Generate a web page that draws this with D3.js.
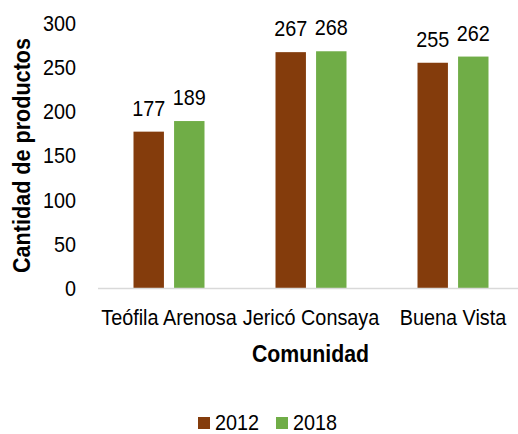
<!DOCTYPE html>
<html>
<head>
<meta charset="utf-8">
<script src="https://cdn.jsdelivr.net/npm/d3@7"></script>
<style>
  body { margin: 0; background: #fff; }
  text { font-family: "Liberation Sans Narrow", "Arial Narrow", "Liberation Sans", Arial, sans-serif; fill: #000; }
</style>
</head>
<body>
<div class="chart"></div>
<script>
const width = 518
const height = 434

const communities = ['Teófila Arenosa', 'Jericó Consaya', 'Buena Vista']
const years = ['2012', '2018']
const values2012 = [177, 267, 255]
const values2018 = [189, 268, 262]
const yTicks = [0, 50, 100, 150, 200, 250, 300]

const colors = { '2012': '#843C0C', '2018': '#70AD47' }

const rows = communities.map((c, i) => ({ name: c, vals: [values2012[i], values2018[i]] }))

const svg = d3.select('.chart')
    .append('svg')
        .attr('width', width)
        .attr('height', height)

// the original uses a condensed face; squeeze the regular one to match
function narrow(sel, k = 0.9){
    sel.each(function(){
        const w = this.getComputedTextLength()
        d3.select(this)
            .attr('textLength', w * k)
            .attr('lengthAdjust', 'spacingAndGlyphs')
    })
}

const x0 = d3.scaleBand()
    .domain(communities)
    .range([98, 524])
    .paddingInner(0.5)
    .paddingOuter(0.25)

const x1 = d3.scaleBand()
    .domain(years)
    .range([0, x0.bandwidth()])
    .paddingInner(0.25)

const y = d3.scaleLinear()
    .domain([0, 300])
    .range([288, 23])

// y tick labels
svg.append('g')
    .selectAll('text')
    .data(yTicks)
    .join('text')
        .attr('x', 76)
        .attr('y', d => y(d))
        .attr('dy', '0.36em')
        .attr('text-anchor', 'end')
        .attr('font-size', 22)
        .text(d => d)
        .call(narrow)

// bars
const groups = svg.append('g')
    .selectAll('g')
    .data(rows)
    .join('g')
        .attr('transform', d => `translate(${x0(d.name)},0)`)

groups.selectAll('rect')
    .data(d => d.vals.map((v, i) => ({ year: years[i], value: v })))
    .join('rect')
        .attr('x', d => x1(d.year))
        .attr('y', d => y(d.value))
        .attr('width', x1.bandwidth())
        .attr('height', d => y(0) - y(d.value))
        .attr('fill', d => colors[d.year])

groups.selectAll('text')
    .data(d => d.vals.map((v, i) => ({ year: years[i], value: v })))
    .join('text')
        .attr('x', d => x1(d.year) + x1.bandwidth() / 2)
        .attr('y', d => y(d.value) - 16)
        .attr('text-anchor', 'middle')
        .attr('font-size', 22)
        .text(d => d.value)
        .call(narrow)

// x axis line
svg.append('line')
    .attr('x1', 98)
    .attr('x2', 524)
    .attr('y1', y(0) + 0.5)
    .attr('y2', y(0) + 0.5)
    .attr('stroke', '#d9d9d9')
    .attr('stroke-width', 1.5)

// x labels
svg.append('g')
    .selectAll('text')
    .data(communities)
    .join('text')
        .attr('x', d => x0(d) + x0.bandwidth() / 2)
        .attr('y', 325)
        .attr('text-anchor', 'middle')
        .attr('font-size', 22)
        .text(d => d)
        .call(narrow)

// axis titles
svg.append('text')
    .attr('x', 310.5)
    .attr('y', 362)
    .attr('text-anchor', 'middle')
    .attr('font-size', 23)
    .attr('font-weight', 'bold')
    .attr('textLength', 117)
    .attr('lengthAdjust', 'spacingAndGlyphs')
    .text('Comunidad')

svg.append('text')
    .attr('transform', 'translate(30,155.5) rotate(-90)')
    .attr('text-anchor', 'middle')
    .attr('font-size', 23)
    .attr('font-weight', 'bold')
    .attr('textLength', 235)
    .attr('lengthAdjust', 'spacingAndGlyphs')
    .text('Cantidad de productos')

// legend
const legendX = [198, 276]
const legend = svg.append('g')
    .selectAll('g')
    .data(years)
    .join('g')
        .attr('transform', (d, i) => `translate(${legendX[i]},417)`)

legend.append('rect')
    .attr('width', 12)
    .attr('height', 12)
    .attr('fill', d => colors[d])

legend.append('text')
    .attr('x', 17)
    .attr('y', 13)
    .attr('font-size', 22)
    .text(d => d)
    .call(narrow)
</script>
</body>
</html>
